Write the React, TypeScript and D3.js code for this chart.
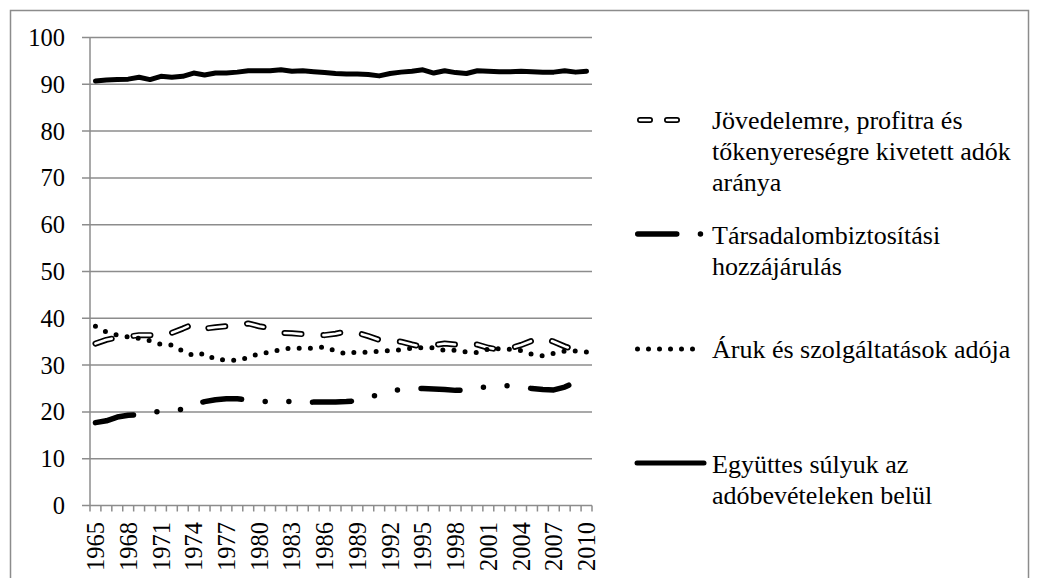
import React from 'react';
import * as d3 from 'd3';

const years = [1965,1966,1967,1968,1969,1970,1971,1972,1973,1974,1975,1976,1977,1978,1979,1980,1981,1982,1983,1984,1985,1986,1987,1988,1989,1990,1991,1992,1993,1994,1995,1996,1997,1998,1999,2000,2001,2002,2003,2004,2005,2006,2007,2008,2009,2010];

const income = [34.6,35.4,35.9,36.1,36.4,36.4,36.3,36.9,37.8,38.8,37.8,38.1,38.3,38.4,38.9,38.3,37.9,36.9,36.8,36.6,36.5,36.4,36.7,37.2,36.9,36.2,35.4,35.2,35.0,34.4,33.9,34.3,34.6,34.4,34.2,34.4,33.7,33.3,33.6,34.3,35.2,35.8,35.0,34.0,33.2,33.0];
const social = [17.7,18.1,18.9,19.3,19.4,19.9,20.1,20.2,20.6,21.6,22.2,22.6,22.8,22.8,22.6,22.3,22.2,22.3,22.2,22.0,22.1,22.1,22.1,22.2,22.4,23.1,23.7,24.4,24.8,25.0,25.0,24.9,24.8,24.6,24.7,25.2,25.3,25.5,25.6,25.2,25.0,24.8,24.7,25.3,26.4,27.0];
const goods = [38.3,37.1,36.4,36.0,35.7,35.2,34.4,34.3,33.0,32.0,32.5,31.2,31.1,31.0,31.6,32.5,32.7,33.4,33.6,33.6,33.6,33.9,33.0,32.4,32.8,32.7,33.0,33.1,33.3,33.6,33.7,33.7,33.1,33.2,32.8,32.7,33.4,33.5,33.4,33.1,32.3,32.0,32.5,33.0,33.0,32.8];
const total = [90.7,90.9,91.0,91.1,91.5,91.0,91.7,91.5,91.7,92.4,92.0,92.4,92.4,92.6,92.9,92.9,92.9,93.1,92.8,92.9,92.7,92.5,92.3,92.2,92.2,92.1,91.8,92.3,92.6,92.8,93.1,92.4,92.9,92.5,92.3,92.9,92.8,92.7,92.7,92.8,92.7,92.6,92.6,92.9,92.6,92.8];

const yTicks = [0,10,20,30,40,50,60,70,80,90,100];
const xLabelYears = [1965,1968,1971,1974,1977,1980,1983,1986,1989,1992,1995,1998,2001,2004,2007,2010];

const legendIncome = ['Jövedelemre, profitra és', 'tőkenyereségre kivetett adók', 'aránya'];
const legendSocial = ['Társadalombiztosítási', 'hozzájárulás'];
const legendGoods = ['Áruk és szolgáltatások adója'];
const legendTotal = ['Együttes súlyuk az', 'adóbevételeken belül'];

const FONT = "'Liberation Serif', 'Times New Roman', serif";
const GRID = '#8c8c8c';

export default function App() {
  const x = d3.scaleBand<number>().domain(years).range([90, 592]).padding(0);
  const y = d3.scaleLinear().domain([0, 100]).range([505.5, 37.5]);
  const cx = (yr: number) => (x(yr) as number) + x.bandwidth() / 2;

  const mk = (vals: number[]) =>
    d3.line<number>().x((_, i) => cx(years[i])).y((v) => y(v)).curve(d3.curveLinear)(vals) as string;

  const edges = years.map((yr) => x(yr) as number).concat([592]);

  const legendX = 712;
  const lh = 31;
  const textBlock = (lines: string[], baseline: number) =>
    lines.map((t, i) => (
      <text key={i} x={legendX} y={baseline + i * lh} fontSize={26} style={{ fontFamily: FONT }} fill="#000">
        {t}
      </text>
    ));

  const incomeDash = '17 22';
  const socialDash = '39 23.7 0 23.7 0 23.7';

  return (
    <svg width={1037} height={578} style={{ position: 'absolute', left: 0, top: 0, display: 'block', background: '#fff', fontFamily: FONT }}>
      <rect x={10.5} y={10.5} width={1018} height={600} fill="none" stroke={GRID} strokeWidth={1.5} />
      {yTicks.map((t) => (
        <line key={t} x1={82} x2={592} y1={y(t)} y2={y(t)} stroke={GRID} strokeWidth={1.5} />
      ))}
      <line x1={90} x2={90} y1={y(100)} y2={y(0)} stroke={GRID} strokeWidth={1.5} />
      {edges.map((e, i) => (
        <line key={i} x1={e} x2={e} y1={y(0)} y2={y(0) + 6} stroke={GRID} strokeWidth={1.5} />
      ))}
      {yTicks.map((t) => (
        <text key={t} x={65} y={y(t)} dy="0.35em" textAnchor="end" fontSize={24.5} style={{ fontFamily: FONT }} fill="#000">
          {t}
        </text>
      ))}
      {xLabelYears.map((yr) => (
        <text
          key={yr}
          transform={`translate(${cx(yr)},${522}) rotate(-90)`}
          textAnchor="end"
          dy="0.35em"
          fontSize={24.5}
          style={{ fontFamily: FONT }}
          fill="#000"
        >
          {yr}
        </text>
      ))}

      <path d={mk(income)} fill="none" stroke="#000" strokeWidth={6} strokeDasharray={incomeDash} strokeLinecap="round" strokeLinejoin="round" />
      <path d={mk(income)} fill="none" stroke="#fff" strokeWidth={2.6} strokeDasharray={incomeDash} strokeLinecap="round" strokeLinejoin="round" />
      <path d={mk(social)} fill="none" stroke="#000" strokeWidth={5.5} strokeDasharray={socialDash} strokeLinecap="round" strokeLinejoin="round" />
      <path d={mk(goods)} fill="none" stroke="#000" strokeWidth={5} strokeDasharray="0 11.2" strokeLinecap="round" strokeLinejoin="round" />
      <path d={mk(total)} fill="none" stroke="#000" strokeWidth={5} strokeLinecap="round" strokeLinejoin="round" />

      <line x1={640} x2={677} y1={120} y2={120} stroke="#000" strokeWidth={6} strokeDasharray="10 17" strokeLinecap="round" />
      <line x1={640} x2={677} y1={120} y2={120} stroke="#fff" strokeWidth={2.6} strokeDasharray="10 17" strokeLinecap="round" />
      {textBlock(legendIncome, 129)}

      <line x1={637.75} x2={700.5} y1={234} y2={234} stroke="#000" strokeWidth={5.5} strokeDasharray={socialDash} strokeLinecap="round" />
      {textBlock(legendSocial, 244)}

      <line x1={637.5} x2={693} y1={349} y2={349} stroke="#000" strokeWidth={5} strokeDasharray="0 11" strokeLinecap="round" />
      {textBlock(legendGoods, 358)}

      <line x1={637} x2={704} y1={463} y2={463} stroke="#000" strokeWidth={5} strokeLinecap="round" />
      {textBlock(legendTotal, 473)}
    </svg>
  );
}
